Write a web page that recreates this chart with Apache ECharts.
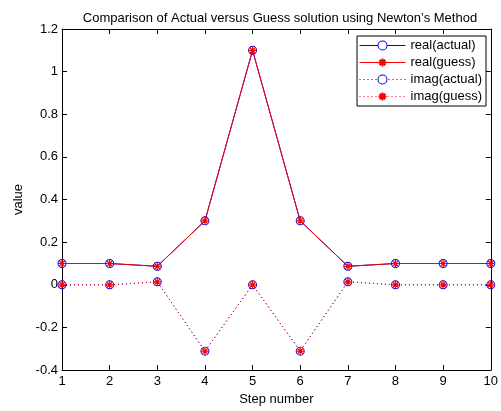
<!DOCTYPE html>
<html><head><meta charset="utf-8">
<script src="https://cdn.jsdelivr.net/npm/echarts@6/dist/echarts.min.js"></script>
<style>html,body{margin:0;padding:0;background:#fff}#c{width:501px;height:411px}</style>
</head><body><div id="c"></div>
<script>
const steps = [1,2,3,4,5,6,7,8,9,10];
const realActual = [0.1,0.1,0.087,0.3,1.1,0.3,0.087,0.1,0.1,0.1];
const realGuess  = [0.1,0.1,0.087,0.3,1.1,0.3,0.087,0.1,0.1,0.1];
const imagActual = [0,0,0.014,-0.311,0,-0.311,0.014,0,0,0];
const imagGuess  = [0,0,0.014,-0.311,0,-0.311,0.014,0,0,0];
const yTicks = ['-0.4','-0.2','0','0.2','0.4','0.6','0.8','1','1.2'];

const FONT = 'Liberation Sans';
const FS = 13;
const star = 'path://M5,0L5,10M0,5L10,5M1.5,1.5L8.5,8.5M1.5,8.5L8.5,1.5';
const ring = 'path://M5,0A5,5,0,1,1,5,10A5,5,0,1,1,5,0ZM5,1.1A3.9,3.9,0,1,0,5,8.9A3.9,3.9,0,1,0,5,1.1Z';
const legendRing = 'M23,0A5,5,0,1,1,23,10A5,5,0,1,1,23,0ZM23,1A4,4,0,1,0,23,9A4,4,0,1,0,23,1Z';
const dot = x => 'M'+x+',4.5L'+(x+1)+',4.5L'+(x+1)+',5.5L'+x+',5.5Z';
const solidIcon = 'path://M0,4.5L18,4.5L18,5.5L0,5.5ZM28,4.5L46,4.5L46,5.5L28,5.5Z' + legendRing;
const dottedIcon = 'path://' + [0,4,8,12,16,29,33,37,41,45].map(dot).join('') + legendRing;
const pair = a => a.map((v,i)=>[steps[i], v]);

const chart = echarts.init(document.getElementById('c'), null, {renderer:'canvas'});
const axLine = {show:true, onZero:false, lineStyle:{color:'#000', width:1}};
const blueIconStyle = {color:'#0000ff', borderColor:'#0000ff', borderWidth:0};
chart.setOption({
  animation:false,
  backgroundColor:'#fff',
  color:['#0000ff','#ff0000','#0000ff','#ff0000'],
  title:{text:'Comparison of Actual versus Guess solution using Newton\u2019s Method', left:275, top:7, textAlign:'center',
    textStyle:{fontFamily:FONT, fontSize:FS, fontWeight:'normal', color:'#000'}},
  grid:{left:62, right:5, top:29, bottom:40, show:false},
  legend:{
    left:357, top:36, orient:'vertical', itemGap:4, itemWidth:46, itemHeight:10,
    backgroundColor:'#fff', borderColor:'#000', borderWidth:1, padding:[3,4,3,2],
    textStyle:{fontFamily:FONT, fontSize:FS, color:'#000'},
    lineStyle:{width:1},
    data:[
      {name:'real(actual)', icon:solidIcon, itemStyle:blueIconStyle},
      {name:'real(guess)'},
      {name:'imag(actual)', icon:dottedIcon, itemStyle:blueIconStyle},
      {name:'imag(guess)'}
    ]
  },
  xAxis:[
    {type:'value', min:1, max:10, interval:1, position:'bottom',
     axisLine:axLine, axisTick:{inside:true, length:5, lineStyle:{color:'#000'}},
     axisLabel:{fontFamily:FONT, fontSize:FS, color:'#000', margin:5},
     splitLine:{show:false},
     name:'Step number', nameLocation:'middle', nameGap:22,
     nameTextStyle:{fontFamily:FONT, fontSize:FS, color:'#000'}},
    {type:'value', min:1, max:10, interval:1, position:'top',
     axisLine:axLine, axisTick:{inside:true, length:5, lineStyle:{color:'#000'}},
     axisLabel:{show:false}, splitLine:{show:false}}
  ],
  yAxis:[
    {type:'value', min:-0.4, max:1.2, interval:0.2, position:'left',
     axisLine:axLine, axisTick:{inside:true, length:5, lineStyle:{color:'#000'}},
     axisLabel:{fontFamily:FONT, fontSize:FS, color:'#000', margin:4,
       formatter:v=>{const i=Math.round((v+0.4)/0.2); return yTicks[i];}},
     splitLine:{show:false},
     name:'value', nameLocation:'middle', nameGap:36, nameRotate:90,
     nameTextStyle:{fontFamily:FONT, fontSize:FS, color:'#000'}},
    {type:'value', min:-0.4, max:1.2, interval:0.2, position:'right',
     axisLine:axLine, axisTick:{inside:true, length:5, lineStyle:{color:'#000'}},
     axisLabel:{show:false}, splitLine:{show:false}}
  ],
  series:[
    {name:'real(actual)', type:'line', data:pair(realActual), symbol:ring, symbolSize:9,
     lineStyle:{color:'#0000ff', width:1}, itemStyle:{color:'#0000ff', borderColor:'#0000ff', borderWidth:0}},
    {name:'real(guess)', type:'line', data:pair(realGuess), symbol:star, symbolSize:8,
     lineStyle:{color:'#ff0000', width:1}, itemStyle:{color:'#ff0000', borderColor:'#ff0000', borderWidth:1.2}},
    {name:'imag(actual)', type:'line', data:pair(imagActual), symbol:ring, symbolSize:9,
     lineStyle:{color:'#0000ff', width:1, type:[1,3]}, itemStyle:{color:'#0000ff', borderColor:'#0000ff', borderWidth:0}},
    {name:'imag(guess)', type:'line', data:pair(imagGuess), symbol:star, symbolSize:8,
     lineStyle:{color:'#ff0000', width:1, type:[1,3]}, itemStyle:{color:'#ff0000', borderColor:'#ff0000', borderWidth:1.2}}
  ]
});
</script></body></html>
